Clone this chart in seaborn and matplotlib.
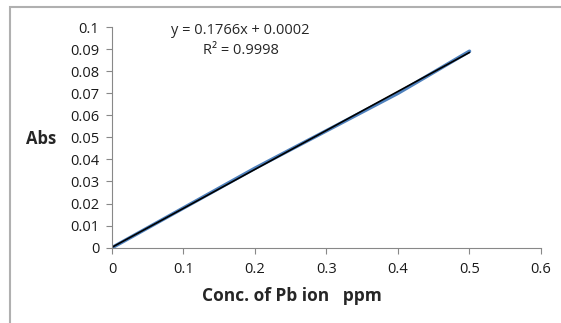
import matplotlib
matplotlib.use('Agg')
import matplotlib.pyplot as plt
from matplotlib.patches import Rectangle
import numpy as np
import pandas as pd
import seaborn as sns

# Calibration data: Pb ion concentration vs absorbance
conc_ppm = [0.0, 0.1, 0.2, 0.3, 0.4, 0.5]
absorbance = [0.0, 0.018, 0.036, 0.053, 0.070, 0.089]

x_ticks = [0, 0.1, 0.2, 0.3, 0.4, 0.5, 0.6]
y_ticks = [0, 0.01, 0.02, 0.03, 0.04, 0.05, 0.06, 0.07, 0.08, 0.09, 0.1]

sns.set_style('white')
plt.rcParams['font.family'] = ['Open Sans', 'DejaVu Sans']

df = pd.DataFrame({'conc': conc_ppm, 'abs': absorbance})

fig = plt.figure(figsize=(5.61, 3.23), dpi=100)
ax = fig.add_axes([0.1996, 0.2331, 0.7647, 0.6833])

# data series (blue) and linear trendline (black)
sns.lineplot(data=df, x='conc', y='abs', ax=ax, color='#4f81bd', linewidth=2.6)
sns.regplot(data=df, x='conc', y='abs', ax=ax, scatter=False, ci=None,
            color='black', line_kws={'linewidth': 1.2})

slope, intercept = np.polyfit(conc_ppm, absorbance, 1)
r2 = np.corrcoef(conc_ppm, absorbance)[0, 1] ** 2
ax.text(0.18, 0.0982, f'y = {slope:.4f}x + {intercept:.4f}', ha='center', va='center',
        fontsize=10.5)
ax.text(0.18, 0.0895, f'R² = {r2:.4f}', ha='center', va='center', fontsize=10.5)

ax.set_xlim(0, 0.6)
ax.set_ylim(0, 0.1)
ax.set_xticks(x_ticks)
ax.set_xticklabels([f'{v:g}' for v in x_ticks])
ax.set_yticks(y_ticks)
ax.set_yticklabels([f'{v:g}' for v in y_ticks])
ax.tick_params(axis='both', labelsize=10.5, colors='#1a1a1a', length=4, width=0.8,
               direction='out', color='#888888', bottom=True, left=True)
ax.tick_params(axis='x', pad=6)
ax.tick_params(axis='y', pad=5)

for side in ['top', 'right']:
    ax.spines[side].set_visible(False)
for side in ['left', 'bottom']:
    ax.spines[side].set_color('#888888')
    ax.spines[side].set_linewidth(0.8)

ax.set_xlabel('')
ax.set_ylabel('')
fig.text(292 / 561, 1 - 296 / 323, 'Conc. of Pb ion   ppm', ha='center', va='center',
         fontsize=12.5, fontweight='bold')
fig.text(41 / 561, 1 - 139 / 323, 'Abs', ha='center', va='center', fontsize=12,
         fontweight='bold')

# chart-area border (right/bottom lie off the image)
fig.add_artist(Rectangle((10 / 561, -0.1), 1.2, 1.1 - 7 / 323,
                         transform=fig.transFigure, fill=False,
                         edgecolor='#b0b0b0', linewidth=1.5, clip_on=False))

fig.savefig('out.png', dpi=100)
